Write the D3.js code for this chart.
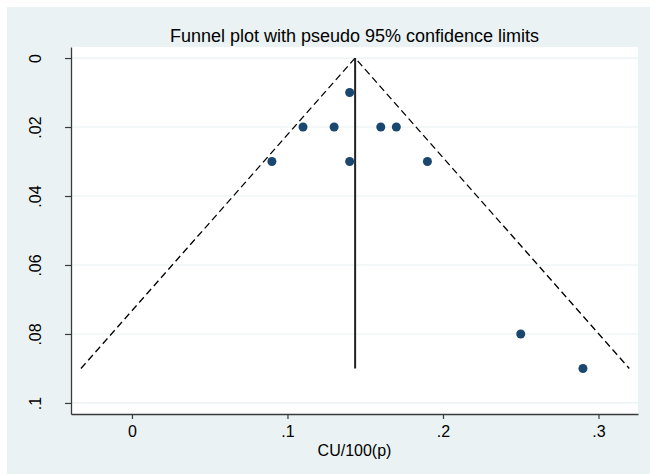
<!DOCTYPE html>
<html>
<head>
<meta charset="utf-8">
<script src="https://cdn.jsdelivr.net/npm/d3@7"></script>
<style>
  body { margin: 0; background: #fff; }
  text { font-family: "Liberation Sans", Arial, sans-serif; fill: #000; }
</style>
</head>
<body>
<div id="chart"></div>
<script>
// study effect sizes (x) and standard errors (y)
const effects = [0.14, 0.11, 0.13, 0.16, 0.17, 0.09, 0.14, 0.19, 0.25, 0.29];
const stdErrors = [0.01, 0.02, 0.02, 0.02, 0.02, 0.03, 0.03, 0.03, 0.08, 0.09];

// pooled estimate and pseudo 95% limits at the largest s.e.
const pooled = 0.1435;
const maxSE = 0.09;
const lowerLimit = -0.0328;
const upperLimit = 0.3198;

const xTicks = [0, 0.1, 0.2, 0.3];
const yTicks = [0, 0.02, 0.04, 0.06, 0.08, 0.1];

const W = 650, H = 474;
const margin = { top: 47, right: 12, bottom: 60, left: 71 };

const svg = d3.select("#chart").append("svg")
    .attr("width", W)
    .attr("height", H);

// outer graph region
svg.append("rect")
    .attr("x", 7).attr("y", 7)
    .attr("width", W - 7).attr("height", H - 7)
    .attr("fill", "#eaf2f3");

// plot region
svg.append("rect")
    .attr("x", margin.left).attr("y", margin.top)
    .attr("width", W - margin.left - margin.right)
    .attr("height", H - margin.top - margin.bottom)
    .attr("fill", "#fff");

const x = d3.scaleLinear()
    .domain([-0.0392, 0.3254])
    .range([margin.left, W - margin.right]);

const y = d3.scaleLinear()
    .domain([-0.0032, 0.1032])
    .range([margin.top, H - margin.bottom]);

const fmt = d => d === 0 ? "0" : d3.format(".2~f")(d).replace(/^0/, "");

// horizontal grid lines
svg.append("g")
    .selectAll("line")
    .data(yTicks)
  .enter().append("line")
    .attr("x1", x.range()[0]).attr("x2", x.range()[1])
    .attr("y1", d => y(d)).attr("y2", d => y(d))
    .attr("stroke", "#eaf2f3")
    .attr("stroke-width", 1.2);

// x axis
const xAxis = svg.append("g")
    .attr("transform", "translate(0," + (H - margin.bottom) + ")")
    .call(d3.axisBottom(x).tickValues(xTicks).tickFormat(fmt).tickSize(5).tickSizeOuter(0).tickPadding(7));

// y axis
const yAxis = svg.append("g")
    .attr("transform", "translate(" + margin.left + ",0)")
    .call(d3.axisLeft(y).tickValues(yTicks).tickFormat(fmt).tickSize(6).tickSizeOuter(0));

[xAxis, yAxis].forEach(g => {
    g.select(".domain").attr("stroke", "#3a3a3a").attr("stroke-width", 1.3);
    g.selectAll(".tick line").attr("stroke", "#3a3a3a").attr("stroke-width", 1.2);
    g.selectAll("text").style("font-size", "16px").attr("fill", "#000");
});

yAxis.selectAll(".tick text")
    .attr("x", 0).attr("dy", 0)
    .attr("text-anchor", "middle")
    .attr("transform", "translate(-36,0) rotate(-90)")
    .attr("dy", "0.35em");

// funnel limits
const funnel = [[lowerLimit, maxSE], [pooled, 0], [upperLimit, maxSE]];
svg.append("path")
    .datum(funnel)
    .attr("fill", "none")
    .attr("stroke", "#000")
    .attr("stroke-width", 1.3)
    .attr("stroke-dasharray", "7,4")
    .attr("d", d3.line().x(d => x(d[0])).y(d => y(d[1])));

// pooled estimate line
svg.append("line")
    .attr("x1", x(pooled)).attr("x2", x(pooled))
    .attr("y1", y(0)).attr("y2", y(maxSE))
    .attr("stroke", "#222")
    .attr("stroke-width", 2);

// studies
svg.append("g")
    .selectAll("circle")
    .data(effects)
  .enter().append("circle")
    .attr("cx", d => x(d))
    .attr("cy", (d, i) => y(stdErrors[i]))
    .attr("r", 4.5)
    .attr("fill", "#1a476f");

// title
svg.append("text")
    .attr("x", x.range()[0] + (x.range()[1] - x.range()[0]) / 2)
    .attr("y", 42)
    .attr("text-anchor", "middle")
    .style("font-size", "18px")
    .text("Funnel plot with pseudo 95% confidence limits");

// axis title
svg.append("text")
    .attr("x", x.range()[0] + (x.range()[1] - x.range()[0]) / 2)
    .attr("y", 456)
    .attr("text-anchor", "middle")
    .style("font-size", "16px")
    .text("CU/100(p)");
</script>
</body>
</html>
